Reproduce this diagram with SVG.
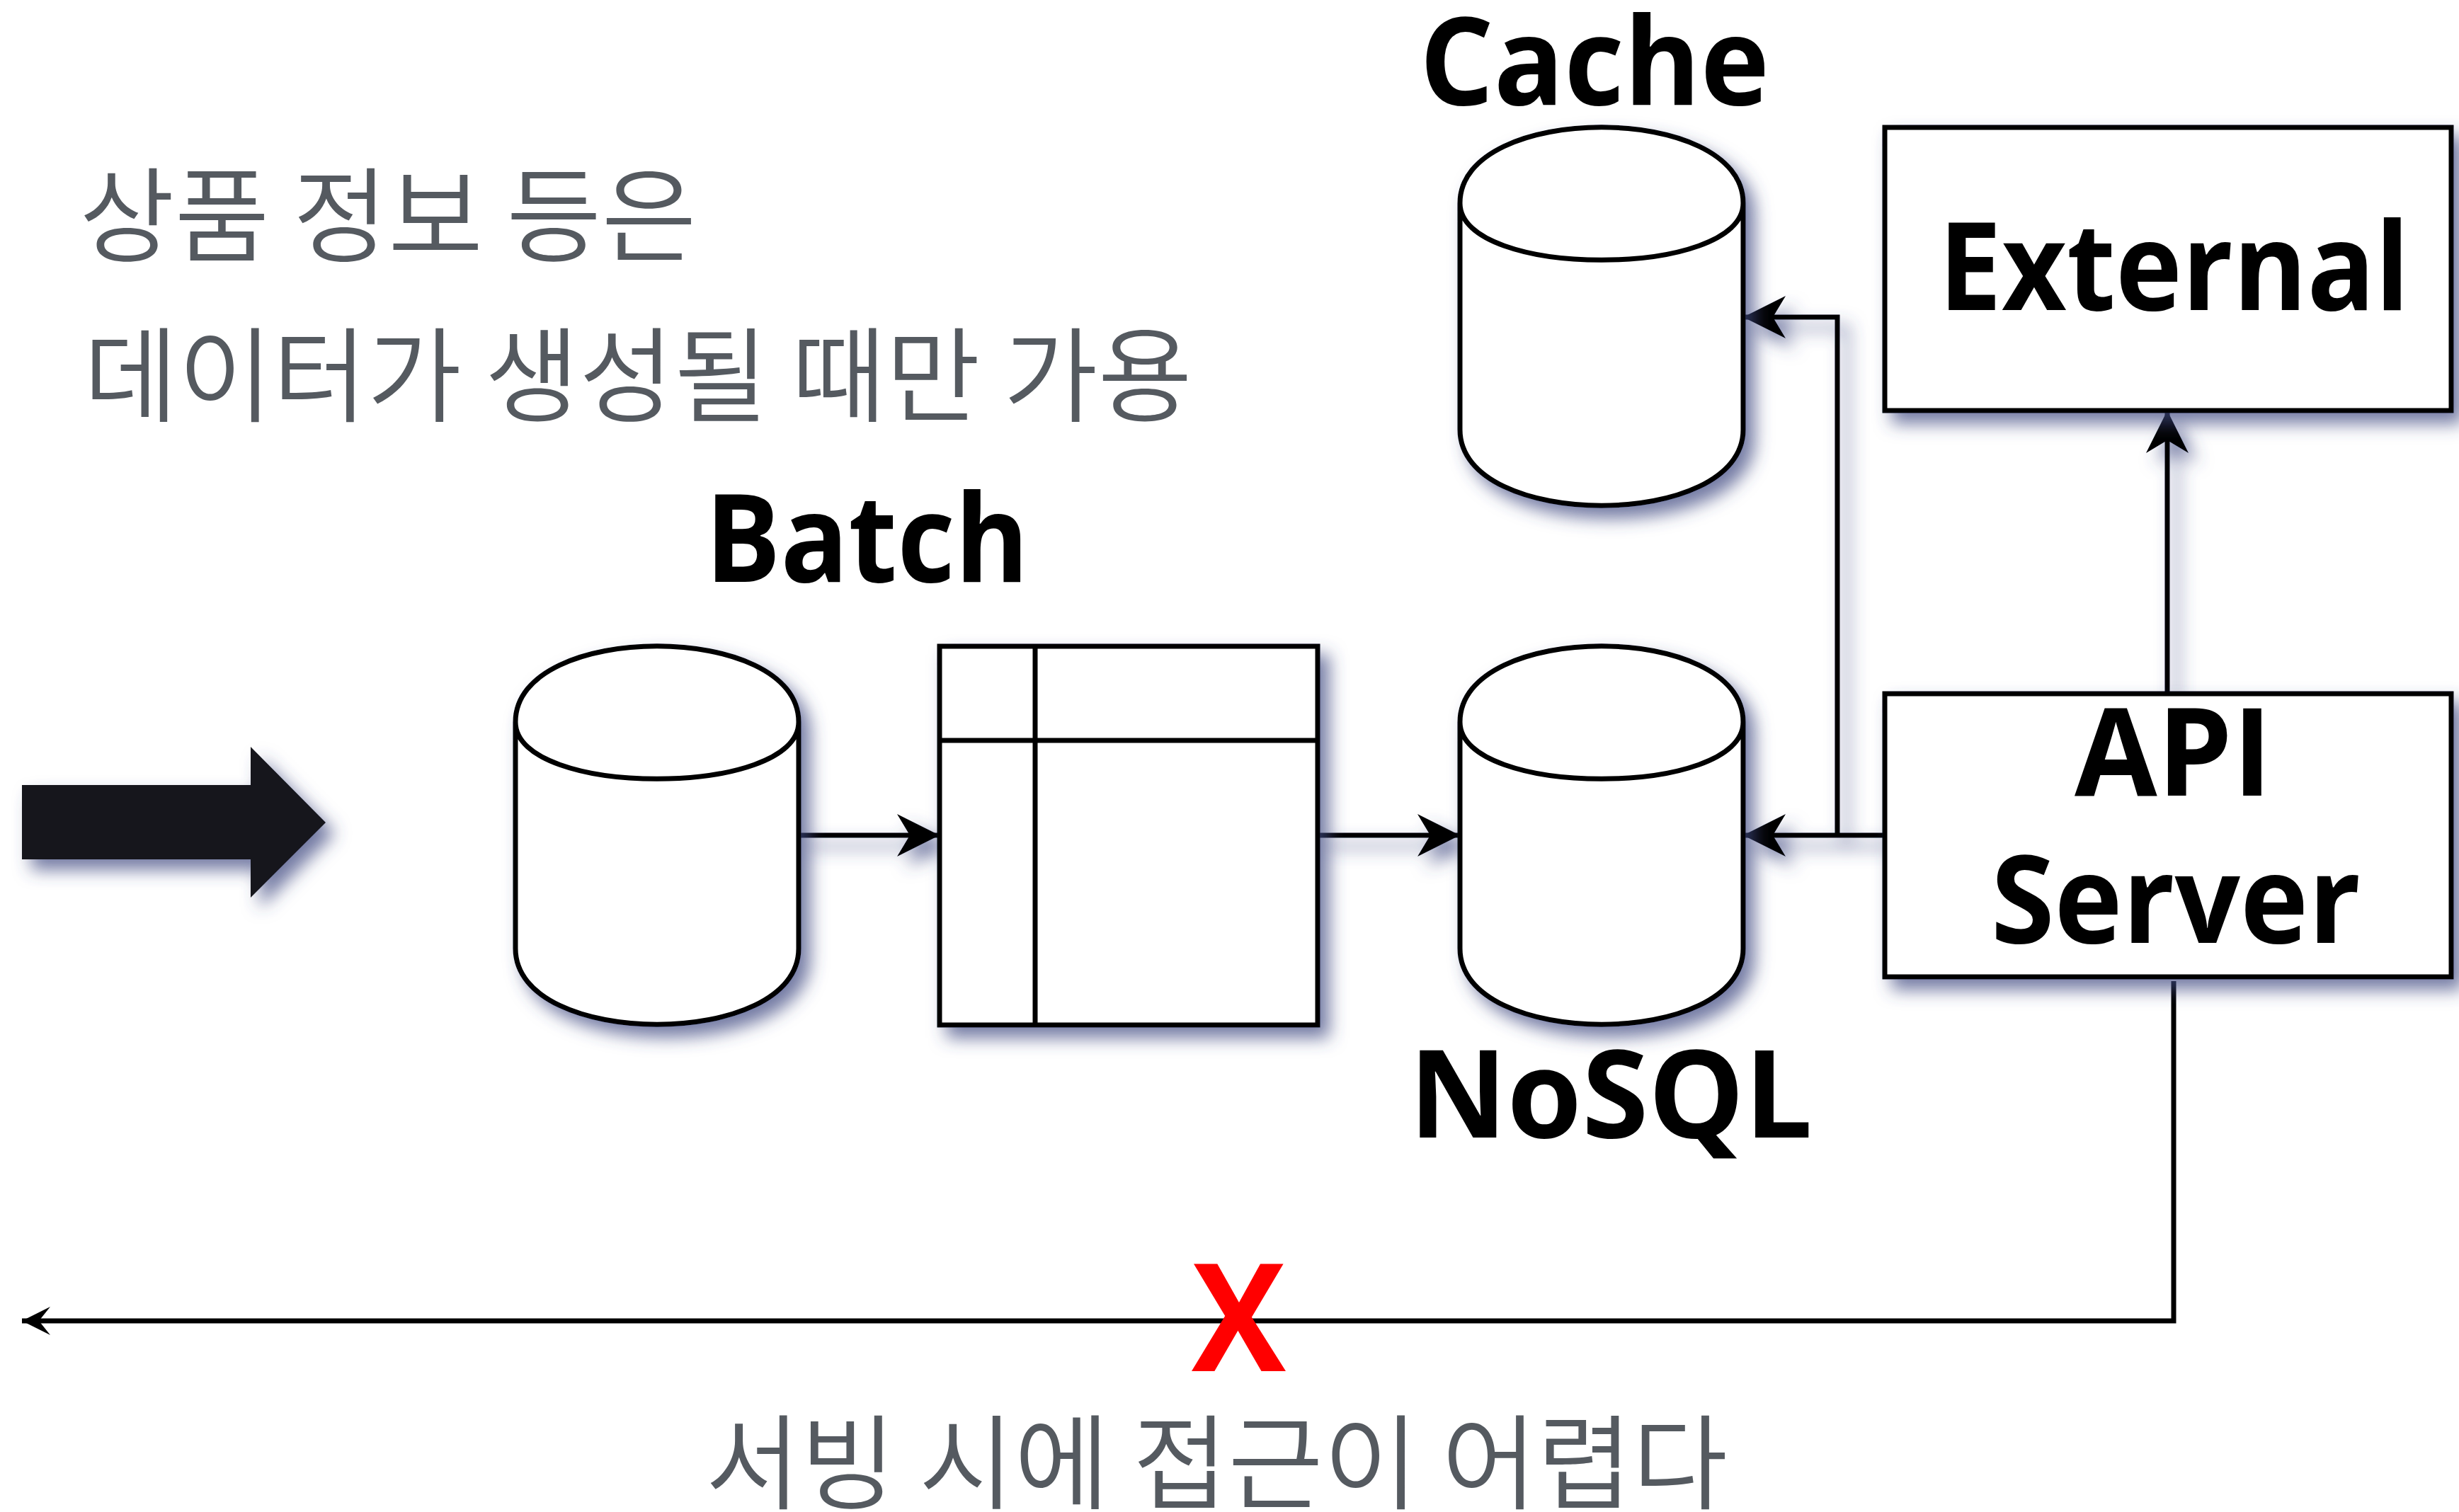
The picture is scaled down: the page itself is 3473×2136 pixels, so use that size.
<svg xmlns="http://www.w3.org/2000/svg" width="3473" height="2136" viewBox="0 0 3473 2136">
<style>
.s{fill:#fff;stroke:#000;stroke-width:7}
.l{fill:none;stroke:#000;stroke-width:7}
.t{font-family:"Open Sans","Noto Sans",sans-serif;font-weight:700;font-size:172px;fill:#000}
.k{font-family:"Noto Sans CJK KR",sans-serif;font-weight:350;font-size:146px;fill:#555a60}
</style>
<defs>
<filter id="sh" x="-20%" y="-20%" width="150%" height="150%"><feDropShadow dx="13" dy="15" stdDeviation="12" flood-color="#3c4680" flood-opacity=".72"/></filter>
<marker id="a" markerUnits="userSpaceOnUse" markerWidth="62" markerHeight="62" refX="60" refY="30" orient="auto"><path d="M0 0L60 30L0 60L18 30Z" fill="#000"/></marker>
<marker id="b" markerUnits="userSpaceOnUse" markerWidth="42" markerHeight="42" refX="40" refY="20" orient="auto"><path d="M0 0L40 20L0 40L16 20Z" fill="#000"/></marker>
<path id="cyl" class="s" d="M0 107C0 -36 400 -36 400 107V427C400 570 0 570 0 427ZM400 107C400 214 0 214 0 107"/>
</defs>
<g id="note-top"><text class="k" x="112" y="358" textLength="872" lengthAdjust="spacingAndGlyphs">상품 정보 등은</text><text class="k" x="118" y="584" textLength="1566" lengthAdjust="spacingAndGlyphs">데이터가 생성될 때만 가용</text></g>
<g id="note-bottom"><text class="k" x="996" y="2120" textLength="1444" lengthAdjust="spacingAndGlyphs">서빙 시에 접근이 어렵다</text></g>
<g id="block-arrow" filter="url(#sh)"><path d="M31 1109H354V1055L460 1162L354 1268V1214H31Z" fill="#16181a"/></g>
<g id="connectors">
<g filter="url(#sh)">
<path class="l" marker-end="url(#a)" d="M1128 1180H1327"/>
<path class="l" marker-end="url(#a)" d="M1861 1180H2062"/>
<path class="l" marker-end="url(#a)" d="M2662 1180H2462"/>
<path class="l" marker-end="url(#a)" d="M2595 1180V448H2462"/>
<path class="l" marker-end="url(#a)" d="M3061 980V580"/>
</g>
<path class="l" marker-end="url(#b)" d="M3070 1386V1866H31"/>
</g>
<g id="batch-db" filter="url(#sh)"><use href="#cyl" x="728" y="913"/></g>
<g id="batch-table" filter="url(#sh)"><rect class="s" x="1327" y="913" width="534" height="535"/><path class="l" d="M1462 913V1448M1327 1046H1861"/></g>
<g id="nosql-db" filter="url(#sh)"><use href="#cyl" x="2062" y="913"/></g>
<g id="cache-db" filter="url(#sh)"><use href="#cyl" x="2062" y="180"/></g>
<g id="external" filter="url(#sh)"><rect class="s" x="2662" y="180" width="800" height="400"/></g>
<g id="api" filter="url(#sh)"><rect class="s" x="2662" y="980" width="800" height="400"/></g>
<g id="labels">
<text class="t" x="2005" y="148" textLength="494" lengthAdjust="spacingAndGlyphs">Cache</text>
<text class="t" x="996" y="822" textLength="457" lengthAdjust="spacingAndGlyphs">Batch</text>
<text class="t" x="2738" y="438" textLength="665" lengthAdjust="spacingAndGlyphs">External</text>
<text class="t" x="2930" y="1124" textLength="279" lengthAdjust="spacingAndGlyphs">API</text>
<text class="t" x="2812" y="1332" textLength="522" lengthAdjust="spacingAndGlyphs">Server</text>
<text class="t" x="1990" y="1607" textLength="570" lengthAdjust="spacingAndGlyphs">NoSQL</text>
</g>
<g id="x-mark"><text x="1683" y="1937" font-family="Open Sans,sans-serif" font-weight="700" font-size="212" fill="#f00" textLength="133" lengthAdjust="spacingAndGlyphs">X</text></g>
</svg>
